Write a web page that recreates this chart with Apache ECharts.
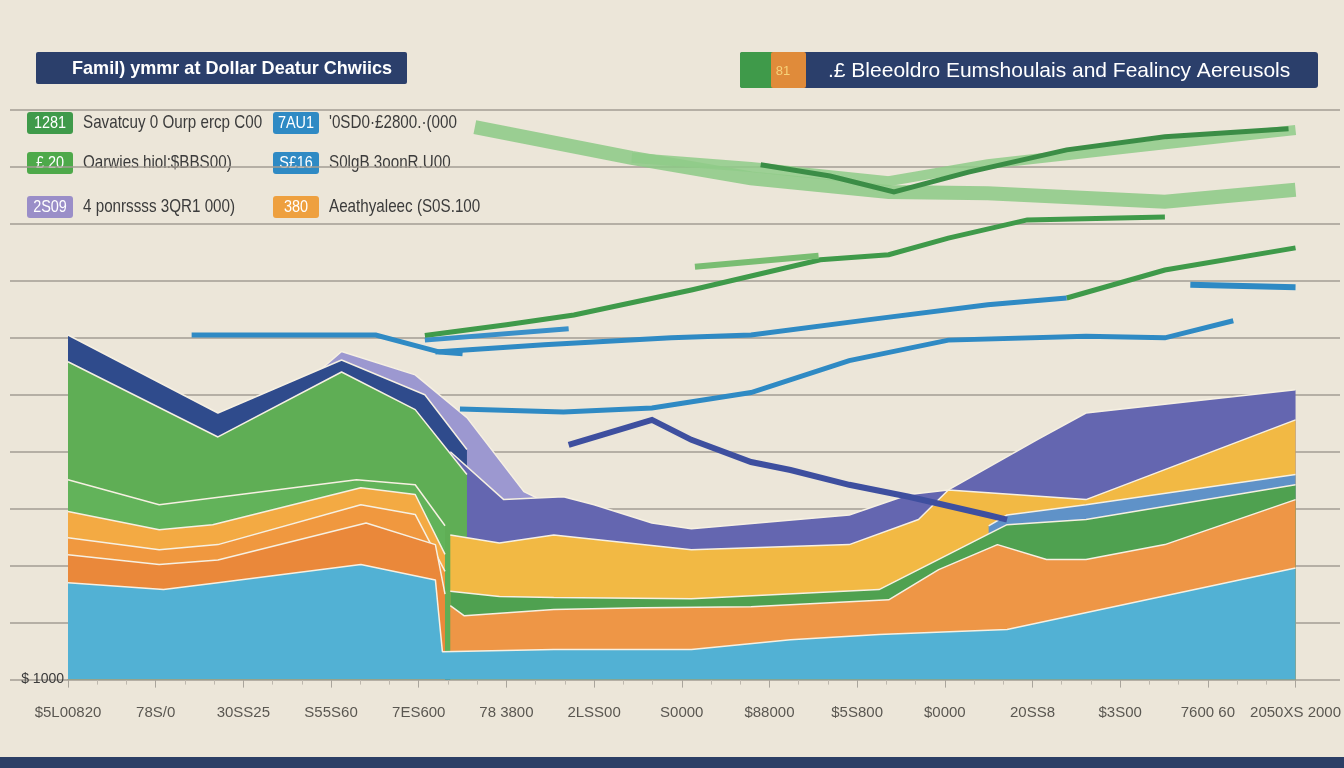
<!DOCTYPE html>
<html>
<head>
<meta charset="utf-8">
<script src="https://cdn.jsdelivr.net/npm/echarts@6/dist/echarts.min.js"></script>
<style>
  html, body { margin: 0; padding: 0; background: #ece6d9; }
  #chart { width: 1344px; height: 768px; }
</style>
</head>
<body>
<div id="chart"></div>
<script>
// tick labels along the bottom
const xLabels = ['$5L00820', '78S/0', '30SS25', 'S55S60', '7ES600', '78 3800', '2LSS00', 'S0000',
  '$88000', '$5S800', '$0000', '20SS8', '$3S00', '7600 60', '2050XS 2000'];

const titleLeft = 'Famil) ymmr at Dollar Deatur Chwiics';
const titleRight = '.£ Bleeoldro Eumshoulais and Fealincy Aereusols';
const badgeLabels = ['1281', '£ 20', '2S09', '7AU1', 'S£16', '380'];
const legendTexts = ['Savatcuy 0 Ourp ercp C00', 'Oarwies hiol:$BBS00)', '4 ponrssss 3QR1 000)',
  "'0SD0·£2800.·(000", 'S0lgB 3oonR.U00', 'Aeathyaleec (S0S.100'];

// bands, [x index, value]
const lilacLeft = [[2.4, 48], [3.12, 57.6], [3.96, 53.5], [4.55, 46], [5.2, 33], [5.6, 30], [6.2, 27]];
const navyLeft = [[0, 60.5], [1.71, 46.8], [3.12, 56.1], [4.07, 50.0], [4.55, 40.4]];
const greenLeft = [[0, 55.8], [1.71, 42.6], [3.12, 54.0], [3.96, 47.4], [4.55, 36.0]];
const greenLeftInner = [[0, 35.1], [1.04, 30.7], [1.65, 31.9], [3.29, 35.1], [3.96, 34.2], [4.3, 27.0]];
const orangeLeftA = [[0, 29.5], [1.04, 26.3], [1.65, 27.2], [3.34, 33.7], [3.96, 32.5], [4.3, 22.0]];
const orangeLeftB = [[0, 24.9], [1.04, 22.8], [1.71, 23.7], [3.34, 30.7], [3.96, 29.0], [4.3, 19.0]];
const orangeLeftC = [[0, 21.9], [1.04, 20.2], [1.71, 21.0], [3.40, 27.5], [4.19, 23.7], [4.3, 15]];
const purpleMid = [[4.36, 40], [4.97, 31.6], [5.65, 32.1], [6.0, 30.7], [6.66, 27.5], [7.11, 26.5],
  [8.91, 28.9], [9.59, 32.5], [10.04, 33.3], [11.05, 42.1], [11.61, 46.8], [14, 50.9]];
const yellowMid = [[4.36, 25.4], [4.92, 24.0], [5.54, 25.4], [7.11, 22.8], [8.91, 23.7], [9.7, 28.1],
  [10.04, 33.3], [11.61, 31.6], [14, 45.6]];
const skyBand = [[10.5, 27], [10.71, 28.9], [11.61, 30.7], [14, 36.0]];
const greenMid = [[4.36, 15.5], [4.92, 14.6], [5.54, 14.4], [7.11, 14.2], [9.25, 15.8], [9.93, 21.1],
  [10.49, 25.5], [10.71, 27.2], [11.61, 28.1], [14, 34.2]];
const orangeRight = [[4.36, 13.0], [4.52, 11.2], [5.54, 12.3], [6.55, 12.6], [7.79, 12.8], [9.36, 14.0],
  [9.93, 19.3], [10.6, 23.7], [11.16, 21.1], [11.61, 21.1], [12.51, 23.7], [14, 31.6]];
const blueBase = [[0, 17.0], [1.09, 15.8], [1.71, 17.0], [3.34, 20.2], [4.19, 17.5], [4.27, 4.9],
  [5.54, 5.3], [7.11, 5.3], [8.24, 7.0], [9.25, 7.9], [10.71, 8.8], [14, 19.6]];

// floating lines
const ribbonA = [[4.64, 97], [6.43, 91.6], [7.79, 88.0], [9.36, 85.6], [10.49, 85.4], [12.51, 83.9], [14, 86.0]];
const ribbonB = [[6.43, 91.6], [7.79, 90.0], [9.36, 87.5], [10.49, 90.5], [12.51, 94.0], [14, 96.5]];
const greenLineE = [[7.9, 90.4], [8.69, 88.4], [9.42, 85.6], [10.27, 89.1], [11.39, 93.0], [12.51, 95.3], [13.92, 96.7]];
const greenLineC = [[4.07, 60.4], [5.0, 62.3], [5.77, 64.0], [7.11, 68.4], [8.58, 73.7], [9.36, 74.6],
  [10.04, 77.5], [10.94, 80.7], [12.51, 81.2]];
const greenLineShort = [[7.15, 72.5], [8.56, 74.4]];
const greenLineD = [[11.39, 67.0], [12.51, 71.9], [14, 75.8]];
const blueLineA = [[4.19, 57.5], [5.43, 58.8], [6.88, 60.0], [7.79, 60.5], [9.14, 63.2], [10.49, 65.8], [11.39, 67.0]];
const blueShortA = [[1.41, 60.5], [3.51, 60.5], [4.24, 57.5], [4.5, 57.2]];
const blueShortB = [[4.07, 59.6], [5.71, 61.6]];
const blueSegRight = [[12.8, 69.3], [14, 68.9]];
const blueLineB = [[4.47, 47.5], [5.65, 47.0], [6.66, 47.7], [7.79, 50.4], [8.91, 56.0], [10.04, 59.6],
  [11.61, 60.3], [12.51, 60.0], [13.29, 63.0]];
const navyLine = [[5.71, 41.2], [6.66, 45.6], [7.11, 42.1], [7.79, 38.2], [8.24, 36.8], [8.91, 34.2],
  [9.59, 32.1], [10.49, 28.9], [10.71, 28.1]];

const FONT = '"Liberation Sans", Arial, sans-serif';

function band(name, data, color, z) {
  return {
    name: name, type: 'line', data: data, xAxisIndex: 1, yAxisIndex: 1,
    symbol: 'none', z: z, silent: true,
    lineStyle: {color: '#f6f0e2', width: 1.5},
    areaStyle: {color: color, opacity: 1}
  };
}

function stroke(name, data, color, width, z, opacity) {
  return {
    name: name, type: 'line', data: data, xAxisIndex: 1, yAxisIndex: 1,
    symbol: 'none', z: z, silent: true,
    lineStyle: {color: color, width: width, opacity: opacity || 1, cap: 'butt', join: 'miter'}
  };
}

const badgeColors = ['#3f9a4a', '#4ea94a', '#9a8ec8', '#2f8ac4', '#2f8ac4', '#eea03f'];
const graphics = [
  {type: 'rect', left: 0, top: 757, shape: {width: 1344, height: 11}, style: {fill: '#2c3f66'}},
  {type: 'rect', left: 36, top: 52, shape: {width: 371, height: 32, r: 2}, style: {fill: '#2b3f6b'}},
  {type: 'text', x: 232, y: 69, scaleX: 0.95, style: {text: titleLeft, fill: '#fff', align: 'center', verticalAlign: 'middle',
      font: 'bold 19px ' + FONT}},
  {type: 'rect', left: 740, top: 52, shape: {width: 578, height: 36, r: 3}, style: {fill: '#2b3f6b'}},
  {type: 'rect', left: 740, top: 52, shape: {width: 34, height: 36, r: 2}, style: {fill: '#3f9a4a'}},
  {type: 'rect', left: 771, top: 52, shape: {width: 35, height: 36, r: 2}, style: {fill: '#e08b3a'}},
  {type: 'text', x: 783, y: 71, style: {text: '81', fill: '#f6d27a', align: 'center', verticalAlign: 'middle',
      font: '13px ' + FONT}},
  {type: 'text', x: 828, y: 71, style: {text: titleRight, fill: '#fff', align: 'left', verticalAlign: 'middle',
      font: '21px ' + FONT}}
];
const badgeX = [27, 27, 27, 273, 273, 273];
const rowY = [123, 163, 207, 123, 163, 207];
badgeLabels.forEach(function (b, i) {
  graphics.push({type: 'rect', left: badgeX[i], top: rowY[i] - 11, shape: {width: 46, height: 22, r: 3},
    style: {fill: badgeColors[i]}});
  graphics.push({type: 'text', x: badgeX[i] + 23, y: rowY[i], scaleX: 0.85, style: {text: b, fill: '#fff', align: 'center',
      verticalAlign: 'middle', font: '17px ' + FONT}});
  graphics.push({type: 'text', x: badgeX[i] + 56, y: rowY[i], scaleX: 0.8, style: {text: legendTexts[i], fill: '#3b3b3b',
      align: 'left', verticalAlign: 'middle', font: '19px ' + FONT}});
});

const chart = echarts.init(document.getElementById('chart'));
chart.setOption({
  backgroundColor: '#ece6d9',
  animation: false,
  graphic: graphics,
  grid: [
    {left: 10, right: 4, top: 110, bottom: 88},
    {left: 68, right: 32, top: 110, bottom: 77}
  ],
  xAxis: [
    {gridIndex: 0, type: 'value', min: 0, max: 1, show: false},
    {
      gridIndex: 1, type: 'value', min: 0, max: 14, interval: 1,
      axisLine: {show: true, lineStyle: {color: '#8c877f', width: 1}},
      axisTick: {show: true, length: 8, lineStyle: {color: '#a9a49b'}},
      minorTick: {show: true, splitNumber: 3, length: 5, lineStyle: {color: '#bdb7ad'}},
      splitLine: {show: false},
      axisLabel: {
        color: '#5a5751', fontSize: 15, fontFamily: FONT, margin: 14,
        formatter: function (v) { return xLabels[Math.round(v)] || ''; }
      }
    }
  ],
  yAxis: [
    {
      gridIndex: 0, type: 'value', min: 0, max: 100, interval: 10,
      axisLine: {show: false}, axisTick: {show: false}, axisLabel: {show: false},
      splitLine: {show: true, lineStyle: {color: '#a39d93', width: 1.5}}
    },
    {
      gridIndex: 1, type: 'value', min: -2, max: 100,
      axisLine: {show: false}, axisTick: {show: false}, splitLine: {show: false},
      axisLabel: {
        color: '#3b3b3b', fontSize: 14, fontFamily: FONT, margin: 4,
        formatter: function (v) { return v === 0 ? '$ 1000' : ''; }
      }
    }
  ],
  series: [
    band('lilac', lilacLeft, '#9c98d0', 2),
    band('navy', navyLeft, '#2f4b8c', 3),
    band('purple', purpleMid, '#6466b0', 3),
    band('green', greenLeft, '#5fae55', 4),
    band('green inner', greenLeftInner, '#62b35a', 5),
    band('yellow', yellowMid, '#f2b944', 5),
    band('sky', skyBand, '#5f92c8', 5),
    band('green mid', greenMid, '#4fa150', 6),
    band('orange a', orangeLeftA, '#f3aa43', 6),
    band('orange b', orangeLeftB, '#f0983f', 7),
    band('orange c', orangeLeftC, '#ea883a', 8),
    band('orange right', orangeRight, '#ee9646', 8),
    band('blue', blueBase, '#52b1d4', 9),
    stroke('ribbon a', ribbonA, '#8cc985', 14, 10, 0.85),
    stroke('ribbon b', ribbonB, '#8fcb88', 10, 10, 0.85),
    stroke('green e', greenLineE, '#3b8d46', 5, 11),
    stroke('green c', greenLineC, '#3f9a4a', 5, 11),
    stroke('green short', greenLineShort, '#79bd72', 6, 11),
    stroke('green d', greenLineD, '#3f9a4a', 5, 11),
    stroke('blue a', blueLineA, '#2f8ac4', 5, 11),
    stroke('blue short a', blueShortA, '#2f8ac4', 5, 11),
    stroke('blue short b', blueShortB, '#3a90c9', 5, 11),
    stroke('blue right', blueSegRight, '#2f8ac4', 6, 11),
    stroke('blue b', blueLineB, '#2f8ac4', 5, 11),
    stroke('navy line', navyLine, '#3e4f9f', 6, 11)
  ]
});
</script>
</body>
</html>
